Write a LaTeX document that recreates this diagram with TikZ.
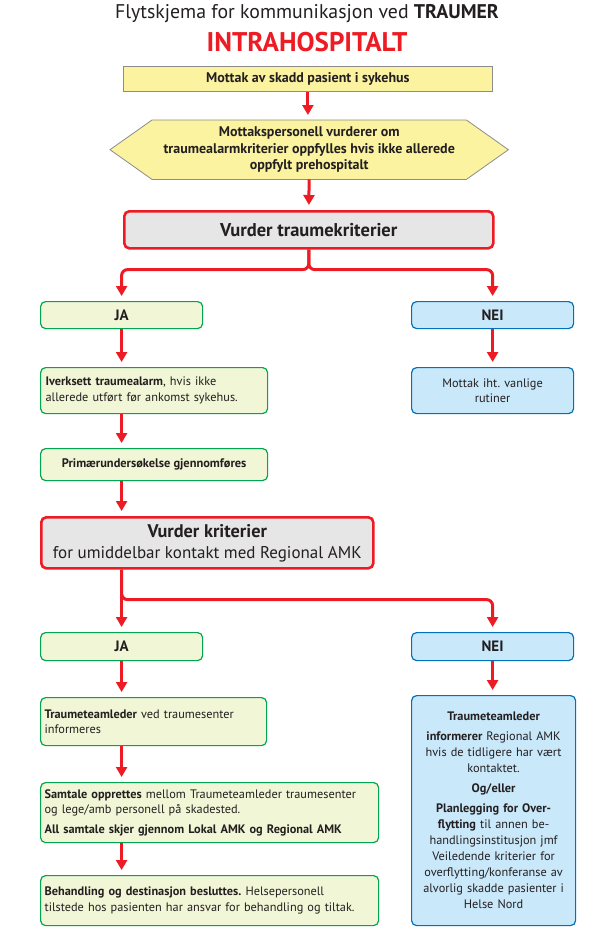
\documentclass[tikz,border=0pt]{standalone}
\usepackage{fontspec}
\setmainfont{PT Sans}
\usetikzlibrary{arrows.meta,backgrounds,calc}
\definecolor{ared}{HTML}{ED1C24}
\definecolor{txt}{HTML}{231F20}
\definecolor{yfill}{HTML}{FBF3A0}
\definecolor{gfill}{HTML}{E6E6E7}
\definecolor{grn}{HTML}{00A650}
\definecolor{grnfill}{HTML}{F1F6D6}
\definecolor{blu}{HTML}{0072BC}
\definecolor{blufill}{HTML}{C9E8FA}
\frenchspacing
\begin{document}
\begin{tikzpicture}[x=1pt,y=-1pt,
  every node/.style={text=txt, inner sep=0pt},
  ybox/.style={draw=black!45, line width=0.8pt, fill=yfill, anchor=north west, font=\fontsize{14}{16}\selectfont\bfseries},
  redbox/.style={draw=ared, line width=2.6pt, fill=gfill, rounded corners=5pt, anchor=north west, align=center},
  gbox/.style={draw=grn, line width=1.2pt, fill=grnfill, rounded corners=5pt, anchor=north west},
  bbox/.style={draw=blu, line width=1.2pt, fill=blufill, rounded corners=5pt, anchor=north west},
  small/.style={font=\fontsize{12.3}{15.5}\selectfont},
  jn/.style={font=\fontsize{15}{17}\selectfont\bfseries},
  rarrow/.style={draw=ared, line width=3pt, -{Triangle[width=11pt,length=10pt]}, shorten >=5pt}
]
\useasboundingbox (0,0) rectangle (594,934);
% titles
\node (t1) at (307,14) {\fontsize{19.8}{22}\selectfont Flytskjema for kommunikasjon ved \textbf{TRAUMER}};
\node (t2) at (307,42) {\fontsize{27}{29}\selectfont\bfseries\color{ared}INTRAHOSPITALT};
% top
\node[ybox, minimum width=369, minimum height=25] (m) at (123,66) {Mottak av skadd pasient i sykehus};
\node[minimum width=398, minimum height=59, anchor=north west, align=center,
      font=\fontsize{14}{16.5}\selectfont\bfseries] (hex) at (110,120)
  {Mottakspersonell vurderer om\\traumealarmkriterier oppfylles hvis ikke allerede\\oppfylt prehospitalt};
\begin{scope}[on background layer]
\draw[draw=black!45, line width=0.8pt, fill=yfill]
  (hex.west) -- ([xshift=42]hex.north west) -- ([xshift=-42]hex.north east) -- (hex.east)
  -- ([xshift=-42]hex.south east) -- ([xshift=42]hex.south west) -- cycle;
\end{scope}
\node[redbox, minimum width=369, minimum height=37, font=\fontsize{18.5}{20}\selectfont\bfseries] (vt) at (123,210) {Vurder traumekriterier};
\node[gbox, minimum width=162, minimum height=27, jn] (ja1) at (40,301) {JA};
\node[bbox, minimum width=162, minimum height=27, jn] (nei1) at (411,301) {NEI};
\node[gbox, minimum width=227, minimum height=46, small, text width=217, inner xsep=5pt, align=left] (iv) at (40,367)
  {\textbf{Iverksett traumealarm}, hvis ikke\\allerede utført før ankomst sykehus.};
\node[bbox, minimum width=162, minimum height=46, small, text width=154, inner xsep=4pt, align=center] (mr) at (411,367)
  {Mottak iht. vanlige\\rutiner};
\node[gbox, minimum width=227, minimum height=32, font=\fontsize{12.4}{15}\selectfont\bfseries] (pu) at (40,448)
  {Primærundersøkelse gjennomføres};
\node[redbox, minimum width=332, minimum height=51, font=\fontsize{17}{21}\selectfont] (vk) at (40,516)
  {{\fontsize{18.3}{21}\selectfont\bfseries Vurder kriterier}\\{\fontsize{17}{21}\selectfont for umiddelbar kontakt med Regional AMK}};
\node[gbox, minimum width=162, minimum height=28, jn] (ja2) at (40,632) {JA};
\node[bbox, minimum width=162, minimum height=28, jn] (nei2) at (411,632) {NEI};
\node[gbox, minimum width=226, minimum height=48, small, text width=218, inner xsep=4pt, align=left] (tl) at (40,697)
  {\textbf{Traumeteamleder} ved traumesenter\\informeres};
\node[gbox, minimum width=338, minimum height=60, small, text width=330, inner xsep=4pt, align=left] (sa) at (40,782)
  {\textbf{Samtale opprettes} mellom Traumeteamleder traumesenter\\og lege/amb personell på skadested.\\[4pt]
   \textbf{All samtale skjer gjennom Lokal AMK og Regional AMK}};
\node[gbox, minimum width=338, minimum height=50, small, text width=330, inner xsep=4pt, align=left] (be) at (40,875)
  {\textbf{Behandling og destinasjon besluttes.} Helsepersonell\\tilstede hos pasienten har ansvar for behandling og tiltak.};
\node[bbox, minimum width=164, minimum height=230, font=\fontsize{12.3}{16}\selectfont, text width=162, inner xsep=1pt, align=center] (nr) at (411,695)
  {\textbf{Traumeteamleder}\\[4pt]
   \textbf{informerer} Regional AMK\\hvis de tidligere har vært\\kontaktet.\\[4pt]
   \textbf{Og/eller}\\[4pt]
   \textbf{Planlegging for Over-}\\\textbf{flytting} til annen be-\\handlingsinstitusjon jmf\\Veiledende kriterier for\\overflytting/konferanse av\\alvorlig skadde pasienter i\\Helse Nord};
% connectors
\draw[rarrow] (m) -- (m |- hex.north);
\draw[rarrow] (hex) -- (vt);
\draw[rarrow, rounded corners=6pt] (vt.south) -- ++(0,20) -| (ja1.north);
\draw[rarrow, rounded corners=6pt] (vt.south) -- ++(0,20) -| (nei1.north);
\draw[rarrow] (ja1) -- (ja1 |- iv.north);
\draw[rarrow] (nei1) -- (mr);
\draw[rarrow] (ja1 |- iv.south) -- (ja1 |- pu.north);
\draw[rarrow] (ja1 |- pu.south) -- (ja1 |- vk.north);
\coordinate (br) at ($(vk.south -| ja2.north)+(0,30)$);
\draw[rarrow] (vk.south -| ja2.north) -- (ja2.north);
\draw[rarrow, rounded corners=6pt] (vk.south -| ja2.north) -- (br) -| (nei2.north);
\draw[rarrow] (ja2) -- (ja2 |- tl.north);
\draw[rarrow] (nei2) -- (nei2 |- nr.north);
\draw[rarrow] (ja2 |- tl.south) -- (ja2 |- sa.north);
\draw[rarrow] (ja2 |- sa.south) -- (ja2 |- be.north);
\end{tikzpicture}
\end{document}
